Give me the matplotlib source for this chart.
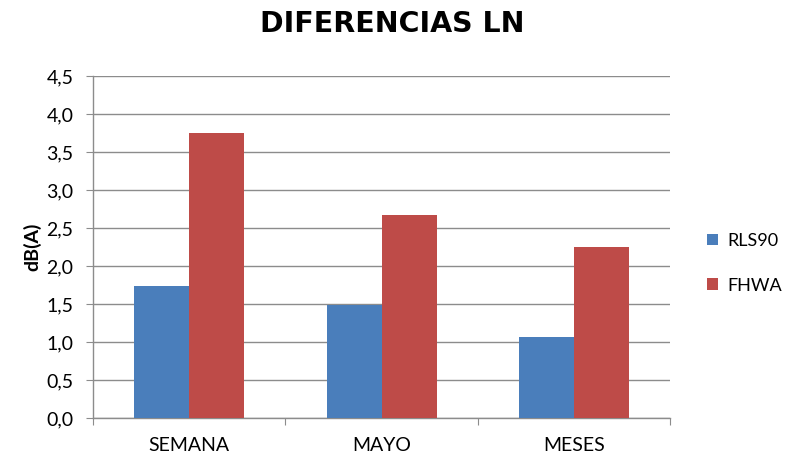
import numpy as np
import matplotlib.pyplot as plt
from matplotlib.ticker import FuncFormatter, FixedLocator

categorias = ["SEMANA", "MAYO", "MESES"]
rls90 = [1.74, 1.49, 1.07]
fhwa = [3.75, 2.67, 2.25]

plt.rcParams['font.family'] = ['Lato', 'DejaVu Sans']

fig = plt.figure(figsize=(7.85, 4.63), dpi=100)
ax = fig.add_axes([0.1185, 0.0972, 0.735, 0.7387])

x = np.arange(len(categorias))
w = 0.286
ax.bar(x - w/2, rls90, w, color="#4A7EBB", label="RLS90", zorder=3)
ax.bar(x + w/2, fhwa, w, color="#BE4B48", label="FHWA", zorder=3)

ax.set_xlim(-0.5, 2.5)
ax.set_ylim(0, 4.5)
ax.set_yticks(np.arange(0, 4.51, 0.5))
ax.yaxis.set_major_formatter(FuncFormatter(lambda v, p: f"{v:.1f}".replace(".", ",")))
ax.grid(axis="y", color="#8c8c8c", linewidth=1, zorder=0)

# category labels centred, tick marks on the group boundaries
ax.xaxis.set_major_locator(FixedLocator([-0.5, 0.5, 1.5, 2.5]))
ax.xaxis.set_major_formatter(FuncFormatter(lambda v, p: ""))
ax.xaxis.set_minor_locator(FixedLocator(x))
ax.set_xticklabels(categorias, minor=True)
ax.tick_params(axis="x", which="minor", length=0, pad=14, labelsize=14)
ax.tick_params(axis="x", which="major", length=5, color="#8c8c8c", direction="out")
ax.tick_params(axis="y", length=5, color="#8c8c8c", labelsize=14, pad=9)

for s in ["top", "right"]:
    ax.spines[s].set_visible(False)
for s in ["left", "bottom"]:
    ax.spines[s].set_color("#8c8c8c")
    ax.spines[s].set_linewidth(1)

ax.set_ylabel("dB(A)", fontsize=14, fontweight="bold", labelpad=4)
fig.suptitle("DIFERENCIAS LN", fontsize=20.5, fontweight="bold", x=0.5, y=0.978,
             family=["DejaVu Sans"])

ax.legend(loc="center left", bbox_to_anchor=(1.036, 0.453), frameon=False,
          fontsize=13, handlelength=0.6, handleheight=0.6, handletextpad=0.5,
          labelspacing=1.6)

fig.savefig("out.png", dpi=100)
